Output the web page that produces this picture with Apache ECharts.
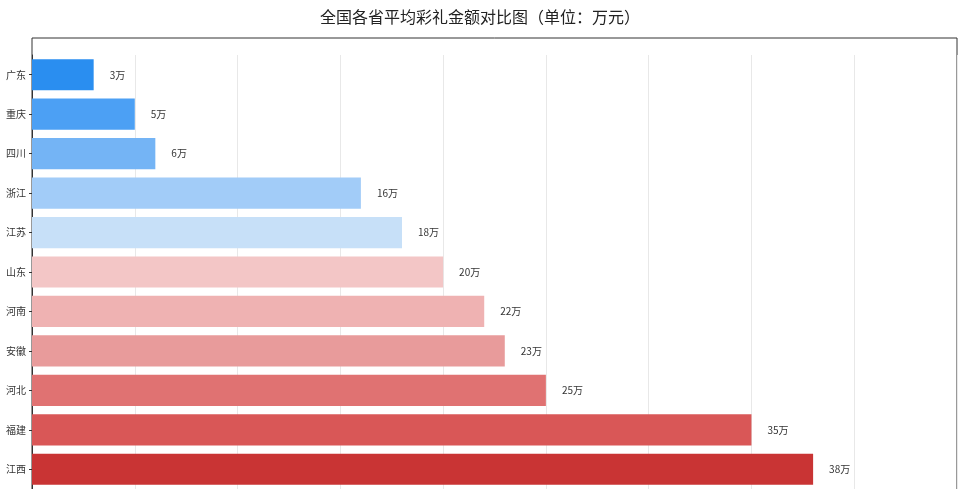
<!DOCTYPE html><html><head><meta charset="utf-8"><script src="https://cdn.jsdelivr.net/npm/echarts@6/dist/echarts.min.js"></script></head><body style="margin:0"><div id="c" style="width:960px;height:489px"></div><script>
const categories=['广东','重庆','四川','浙江','江苏','山东','河南','安徽','河北','福建','江西'];
const values=[3,5,6,16,18,20,22,23,25,35,38];
const colors=['#2a8ef0','#4ca0f4','#74b4f5','#a2ccf8','#c7e0f8','#f3c6c6','#efb2b2','#e89b9b','#e07272','#d95757','#c93434'];
const ch=echarts.init(document.getElementById('c'));
ch.setOption({
title:{text:'全国各省平均彩礼金额对比图（单位：万元）',left:'center',top:4,textStyle:{fontSize:16,fontWeight:'normal',color:'#222',fontFamily:'Noto Sans CJK SC'}},
grid:{left:32,right:3,top:55,bottom:0},
graphic:[{type:'rect',shape:{x:32,y:38,width:925,height:460},style:{fill:'none',stroke:'#333',lineWidth:1},silent:true}],
xAxis:{type:'value',min:0,max:45,interval:5,axisLabel:{show:false},axisLine:{show:false},axisTick:{show:false},splitLine:{lineStyle:{color:'#e8e8e8'}}},
yAxis:{type:'category',inverse:true,data:categories,axisLine:{lineStyle:{color:'#333'}},axisTick:{show:true,length:3,alignWithLabel:true},axisLabel:{fontSize:10,color:'#333',margin:6,fontFamily:'Noto Sans CJK SC'}},
series:[{type:'bar',barCategoryGap:'21%',data:values.map((v,i)=>({value:v,itemStyle:{color:colors[i]}})),label:{show:true,position:'right',distance:16,formatter:p=>p.value+'万',fontSize:10,color:'#333',fontFamily:'Noto Sans CJK SC'}}]
});
</script></body></html>
